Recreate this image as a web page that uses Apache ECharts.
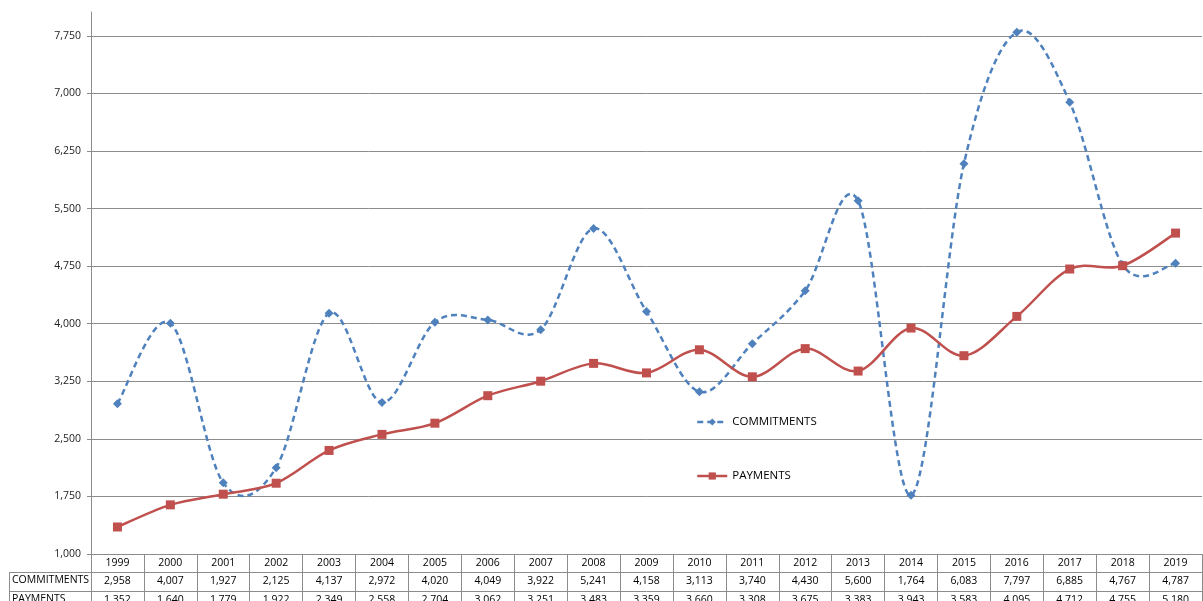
<!DOCTYPE html>
<html>
<head>
<meta charset="utf-8">
<script src="https://cdn.jsdelivr.net/npm/echarts@6/dist/echarts.min.js"></script>
<style>html,body{margin:0;padding:0;background:#fff;overflow:hidden}#c{width:1203px;height:601px}</style>
</head>
<body>
<div id="c"></div>
<script>
const years = ['1999','2000','2001','2002','2003','2004','2005','2006','2007','2008','2009','2010','2011','2012','2013','2014','2015','2016','2017','2018','2019'];
const commitments = [2958,4007,1927,2125,4137,2972,4020,4049,3922,5241,4158,3113,3740,4430,5600,1764,6083,7797,6885,4767,4787];
const payments = [1352,1640,1779,1922,2349,2558,2704,3062,3251,3483,3359,3660,3308,3675,3383,3943,3583,4095,4712,4755,5180];
const seriesNames = ['COMMITMENTS','PAYMENTS'];

const fmt = v => Number(v).toLocaleString('en-US');
const FONT = 'Open Sans';
const GRID = '#8c8c8c';
const BLUE = '#4F81BD';
const RED = '#C0504D';
const DASH = [6, 4];

const chart = echarts.init(document.getElementById('c'), null, {width: 1203, height: 601});

const tableAxis = (data, offset) => ({
  type: 'category', data: data.map(fmt), position: 'bottom', offset: offset,
  axisLine: {show: true, lineStyle: {color: GRID, width: 1}},
  axisTick: {show: true, length: 19, lineStyle: {color: GRID}},
  axisLabel: {color: '#000', fontFamily: FONT, fontSize: 10.5, margin: 4, interval: 0},
  splitLine: {show: false}
});

// Smoothed curve (Catmull-Rom style, like spreadsheet smoothing) built via axis coordinates
function curveSeries(name, values, color, dash) {
  return {
    type: 'custom', name: name, clip: false, z: 2, silent: true,
    data: values.map((v, i) => [i, v]),
    encode: {x: 0, y: 1},
    renderItem: (params, api) => {
      if (params.dataIndex !== 0) return null;
      const pts = values.map((v, i) => api.coord([i, v]));
      const n = pts.length;
      let d = 'M' + pts[0][0] + ' ' + pts[0][1];
      for (let i = 0; i < n - 1; i++) {
        const p0 = pts[Math.max(i - 1, 0)], p1 = pts[i], p2 = pts[i + 1], p3 = pts[Math.min(i + 2, n - 1)];
        const c1x = p1[0] + (p2[0] - p0[0]) / 6, c1y = p1[1] + (p2[1] - p0[1]) / 6;
        const c2x = p2[0] - (p3[0] - p1[0]) / 6, c2y = p2[1] - (p3[1] - p1[1]) / 6;
        d += ' C' + c1x + ' ' + c1y + ' ' + c2x + ' ' + c2y + ' ' + p2[0] + ' ' + p2[1];
      }
      return {
        type: 'path', shape: {pathData: d},
        style: {fill: null, stroke: color, lineWidth: 2.5, lineDash: dash || null}
      };
    }
  };
}

chart.setOption({
  animation: false,
  backgroundColor: '#fff',
  grid: {left: 91, right: 1, top: 12, bottom: 47, containLabel: false, outerBoundsMode: 'none'},
  legend: {
    orient: 'vertical', left: 691, top: 411, itemGap: 42,
    itemWidth: 30, itemHeight: 9,
    textStyle: {fontFamily: FONT, fontSize: 11.5, color: '#000'},
    data: [
      {name: seriesNames[0], lineStyle: {color: BLUE, width: 2.5, type: DASH, opacity: 1}},
      {name: seriesNames[1], lineStyle: {color: RED, width: 2.5, type: 'solid', opacity: 1}}
    ]
  },
  xAxis: [
    {
      type: 'category', data: years, position: 'bottom',
      axisLine: {show: true, lineStyle: {color: GRID, width: 1}},
      axisTick: {show: true, length: 18, lineStyle: {color: GRID}},
      axisLabel: {color: '#000', fontFamily: FONT, fontSize: 10.5, margin: 4, interval: 0},
      splitLine: {show: false}
    },
    tableAxis(commitments, 18),
    tableAxis(payments, 37)
  ],
  yAxis: {
    type: 'value', min: 1000, max: 8060, interval: 750,
    axisLine: {show: true, lineStyle: {color: GRID, width: 1}},
    axisTick: {show: true, length: 4, lineStyle: {color: GRID}},
    axisLabel: {color: '#222', fontFamily: FONT, fontSize: 10.5, margin: 10, showMaxLabel: false, formatter: v => fmt(v)},
    splitLine: {show: true, showMaxLine: false, lineStyle: {color: GRID, width: 1}}
  },
  graphic: [
    {type: 'line', shape: {x1: 9, y1: 572.5, x2: 91, y2: 572.5}, style: {stroke: GRID, lineWidth: 1}},
    {type: 'line', shape: {x1: 9, y1: 591.5, x2: 91, y2: 591.5}, style: {stroke: GRID, lineWidth: 1}},
    {type: 'line', shape: {x1: 9.5, y1: 572, x2: 9.5, y2: 601}, style: {stroke: GRID, lineWidth: 1}},
    {type: 'text', left: 12, top: 575, style: {text: seriesNames[0], fontFamily: FONT, fontSize: 10.5, fill: '#000'}},
    {type: 'text', left: 12, top: 594, style: {text: seriesNames[1], fontFamily: FONT, fontSize: 10.5, fill: '#000'}}
  ],
  series: [
    curveSeries('commitments-curve', commitments, BLUE, DASH),
    curveSeries('payments-curve', payments, RED, null),
    {
      name: seriesNames[0], type: 'line', data: commitments, z: 3,
      symbol: 'diamond', symbolSize: 9,
      lineStyle: {color: BLUE, width: 2.5, type: DASH, opacity: 0},
      itemStyle: {color: BLUE}
    },
    {
      name: seriesNames[1], type: 'line', data: payments, z: 3,
      symbol: 'rect', symbolSize: 9,
      lineStyle: {color: RED, width: 2.5, opacity: 0},
      itemStyle: {color: RED}
    }
  ]
});
</script>
</body>
</html>
